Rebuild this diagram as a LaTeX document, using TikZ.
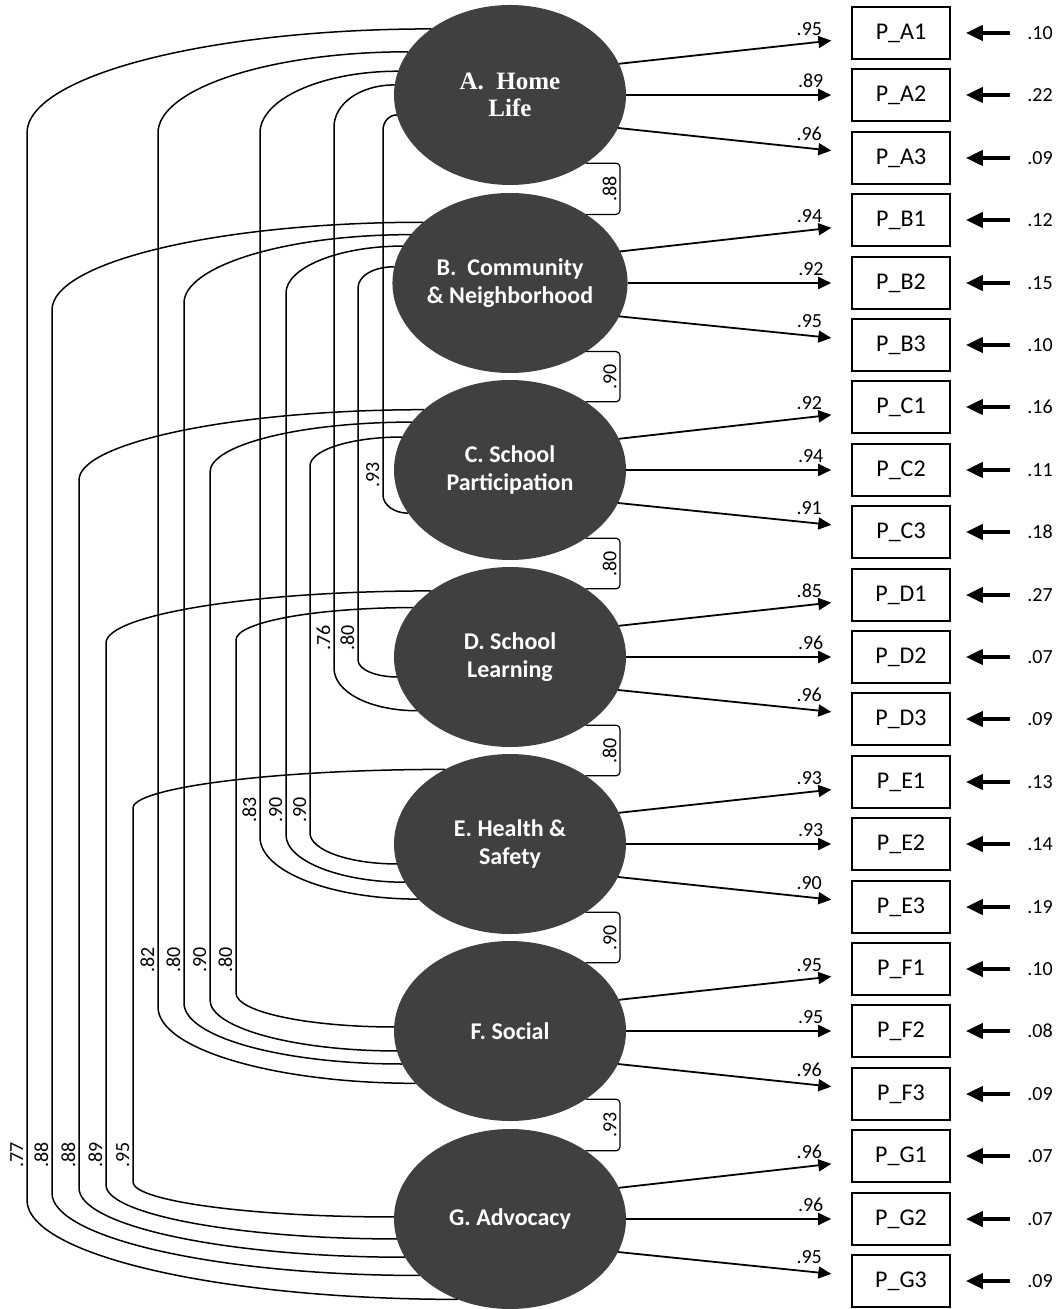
\documentclass[tikz,border=0pt]{standalone}
\usepackage{fontspec}
\setmainfont{Carlito}
\newfontfamily\titleserif{Liberation Serif}
\usetikzlibrary{arrows.meta,shapes.geometric}
\definecolor{factorgray}{RGB}{64,64,64}

\begin{document}
\begin{tikzpicture}[x=0.5pt, y=-0.5pt,
		factor/.style={ellipse, fill=factorgray, text=white, align=center,
			font=\bfseries\fontsize{12}{14}\selectfont,
			minimum width=116pt, minimum height=90pt, inner sep=0pt, outer sep=0pt},
		item/.style={draw, line width=0.8pt, minimum width=49pt, minimum height=26pt,
			inner sep=0pt, font=\fontsize{12}{14}\selectfont},
		load/.style={-{Triangle[length=6.5pt,width=6pt]}, line width=0.9pt, shorten >=10pt},
		loadlbl/.style={above, pos=0.82, font=\fontsize{10}{12}\selectfont},
		err/.style={inner sep=1pt, font=\fontsize{10}{12}\selectfont},
		errarrow/.style={-{Triangle[length=8.5pt,width=7.5pt]}, line width=2pt,
			shorten <=7.5pt, shorten >=7.5pt},
		corr/.style={line width=0.75pt},
		bracket/.style={line width=0.6pt, rounded corners=2pt},
		corrlbl/.style={rotate=90, anchor=south, inner sep=1.5pt, font=\fontsize{10}{12}\selectfont}]
		\useasboundingbox (0,0) rectangle (1057,1309);
		
		% Factors
		\node[factor, font=\titleserif\bfseries\fontsize{12.5}{13.5}\selectfont] (A) at (510,95) {A.\ \ Home\\Life};
		\node[factor] (B) at (510,283) {B.\ \ Community\\\& Neighborhood};
		\node[factor] (C) at (510,470) {C. School\\Participation};
		\node[factor] (D) at (510,657) {D. School\\Learning};
		\node[factor] (E) at (510,844) {E. Health \&\\Safety};
		\node[factor] (F) at (510,1031) {F. Social};
		\node[factor] (G) at (510,1219) {G. Advocacy};
		
		% Items
		\node[item] (PA1) at (901,33) {P\_A1};
		\node[item] (PA2) at (901,95) {P\_A2};
		\node[item] (PA3) at (901,158) {P\_A3};
		\node[item] (PB1) at (901,220) {P\_B1};
		\node[item] (PB2) at (901,283) {P\_B2};
		\node[item] (PB3) at (901,345) {P\_B3};
		\node[item] (PC1) at (901,407) {P\_C1};
		\node[item] (PC2) at (901,470) {P\_C2};
		\node[item] (PC3) at (901,532) {P\_C3};
		\node[item] (PD1) at (901,595) {P\_D1};
		\node[item] (PD2) at (901,657) {P\_D2};
		\node[item] (PD3) at (901,719) {P\_D3};
		\node[item] (PE1) at (901,782) {P\_E1};
		\node[item] (PE2) at (901,844) {P\_E2};
		\node[item] (PE3) at (901,907) {P\_E3};
		\node[item] (PF1) at (901,969) {P\_F1};
		\node[item] (PF2) at (901,1031) {P\_F2};
		\node[item] (PF3) at (901,1094) {P\_F3};
		\node[item] (PG1) at (901,1156) {P\_G1};
		\node[item] (PG2) at (901,1219) {P\_G2};
		\node[item] (PG3) at (901,1281) {P\_G3};
		
		% Loadings
		\draw[load] (A.16) -- (PA1) node[loadlbl] {.95};
		\draw[load] (A.0) -- (PA2) node[loadlbl] {.89};
		\draw[load] (A.-17) -- (PA3) node[loadlbl] {.96};
		\draw[load] (B.16) -- (PB1) node[loadlbl] {.94};
		\draw[load] (B.0) -- (PB2) node[loadlbl] {.92};
		\draw[load] (B.-17) -- (PB3) node[loadlbl] {.95};
		\draw[load] (C.16) -- (PC1) node[loadlbl] {.92};
		\draw[load] (C.0) -- (PC2) node[loadlbl] {.94};
		\draw[load] (C.-17) -- (PC3) node[loadlbl] {.91};
		\draw[load] (D.16) -- (PD1) node[loadlbl] {.85};
		\draw[load] (D.0) -- (PD2) node[loadlbl] {.96};
		\draw[load] (D.-17) -- (PD3) node[loadlbl] {.96};
		\draw[load] (E.16) -- (PE1) node[loadlbl] {.93};
		\draw[load] (E.0) -- (PE2) node[loadlbl] {.93};
		\draw[load] (E.-17) -- (PE3) node[loadlbl] {.90};
		\draw[load] (F.16) -- (PF1) node[loadlbl] {.95};
		\draw[load] (F.0) -- (PF2) node[loadlbl] {.95};
		\draw[load] (F.-17) -- (PF3) node[loadlbl] {.96};
		\draw[load] (G.16) -- (PG1) node[loadlbl] {.96};
		\draw[load] (G.0) -- (PG2) node[loadlbl] {.96};
		\draw[load] (G.-17) -- (PG3) node[loadlbl] {.95};
		
		% Errors
		\node[err] (eA1) at (1040,33) {.10}; \draw[errarrow] (eA1) -- (PA1);
		\node[err] (eA2) at (1040,95) {.22}; \draw[errarrow] (eA2) -- (PA2);
		\node[err] (eA3) at (1040,158) {.09}; \draw[errarrow] (eA3) -- (PA3);
		\node[err] (eB1) at (1040,220) {.12}; \draw[errarrow] (eB1) -- (PB1);
		\node[err] (eB2) at (1040,283) {.15}; \draw[errarrow] (eB2) -- (PB2);
		\node[err] (eB3) at (1040,345) {.10}; \draw[errarrow] (eB3) -- (PB3);
		\node[err] (eC1) at (1040,407) {.16}; \draw[errarrow] (eC1) -- (PC1);
		\node[err] (eC2) at (1040,470) {.11}; \draw[errarrow] (eC2) -- (PC2);
		\node[err] (eC3) at (1040,532) {.18}; \draw[errarrow] (eC3) -- (PC3);
		\node[err] (eD1) at (1040,595) {.27}; \draw[errarrow] (eD1) -- (PD1);
		\node[err] (eD2) at (1040,657) {.07}; \draw[errarrow] (eD2) -- (PD2);
		\node[err] (eD3) at (1040,719) {.09}; \draw[errarrow] (eD3) -- (PD3);
		\node[err] (eE1) at (1040,782) {.13}; \draw[errarrow] (eE1) -- (PE1);
		\node[err] (eE2) at (1040,844) {.14}; \draw[errarrow] (eE2) -- (PE2);
		\node[err] (eE3) at (1040,907) {.19}; \draw[errarrow] (eE3) -- (PE3);
		\node[err] (eF1) at (1040,969) {.10}; \draw[errarrow] (eF1) -- (PF1);
		\node[err] (eF2) at (1040,1031) {.08}; \draw[errarrow] (eF2) -- (PF2);
		\node[err] (eF3) at (1040,1094) {.09}; \draw[errarrow] (eF3) -- (PF3);
		\node[err] (eG1) at (1040,1156) {.07}; \draw[errarrow] (eG1) -- (PG1);
		\node[err] (eG2) at (1040,1219) {.07}; \draw[errarrow] (eG2) -- (PG2);
		\node[err] (eG3) at (1040,1281) {.09}; \draw[errarrow] (eG3) -- (PG3);
		
		% Neighbour correlations
		\draw[bracket] (A.-42) -| (620,189) node[corrlbl] {.88} |- (B.42);
		\draw[bracket] (B.-42) -| (620,377) node[corrlbl] {.90} |- (C.42);
		\draw[bracket] (C.-42) -| (620,564) node[corrlbl] {.80} |- (D.42);
		\draw[bracket] (D.-42) -| (620,751) node[corrlbl] {.80} |- (E.42);
		\draw[bracket] (E.-42) -| (620,938) node[corrlbl] {.90} |- (F.42);
		\draw[bracket] (F.-42) -| (620,1125) node[corrlbl] {.93} |- (G.42);
		
		% Other correlations
		\draw[corr] (A.140) .. controls +(-223,0) and +(0,-57) .. (27,133) -- (27,1200) .. controls +(0,55) and +(-237,0) .. (G.237) node[corrlbl] at (27,1155) {.77};
		\draw[corr] (A.157) .. controls +(-139,0) and +(0,-44) .. (158,133) -- (158,1007) .. controls +(0,42) and +(-141,0) .. (F.209) node[corrlbl] at (158,960) {.82};
		\draw[corr] (A.168) .. controls +(-76,0) and +(0,-34) .. (260,133) -- (260,837) .. controls +(0,35) and +(-86,0) .. (E.211) node[corrlbl] at (260,810) {.83};
		\draw[corr] (A.175) .. controls +(-35,0) and +(0,-23) .. (334,127) -- (334,668) .. controls +(0,25) and +(-45,0) .. (D.210) node[corrlbl] at (334,638) {.76};
		\draw[corr] (A.190) .. controls +(-8,0) and +(0,-8) .. (383,130) -- (383,495) .. controls +(0,10) and +(-14,0) .. (C.203) node[corrlbl] at (383,475) {.93};
		
		\draw[corr] (B.145) .. controls +(-205,0) and +(0,-48) .. (52,310) -- (52,1193) .. controls +(0,45) and +(-201,0) .. (G.212) node[corrlbl] at (52,1155) {.88};
		\draw[corr] (B.154) .. controls +(-128,0) and +(0,-36) .. (184,303) -- (184,1003) .. controls +(0,34) and +(-120,0) .. (F.197) node[corrlbl] at (184,960) {.80};
		\draw[corr] (B.161) .. controls +(-65,0) and +(0,-25) .. (286,293) -- (286,835) .. controls +(0,26) and +(-64,0) .. (E.200) node[corrlbl] at (286,810) {.90};
		\draw[corr] (B.172) .. controls +(-21,0) and +(0,-12) .. (358,288) -- (358,660) .. controls +(0,10) and +(-20,0) .. (D.190) node[corrlbl] at (358,638) {.80};
		
		\draw[corr] (C.145) .. controls +(-191,0) and +(0,-37) .. (79,480) -- (79,1188) .. controls +(0,38) and +(-178,0) .. (G.200) node[corrlbl] at (79,1155) {.88};
		\draw[corr] (C.154) .. controls +(-112,0) and +(0,-27) .. (210,472) -- (210,1000) .. controls +(0,28) and +(-102,0) .. (F.190) node[corrlbl] at (210,960) {.90};
		\draw[corr] (C.163) .. controls +(-51,0) and +(0,-16) .. (310,466) -- (310,833) .. controls +(0,17) and +(-48,0) .. (E.190) node[corrlbl] at (310,810) {.90};
		
		\draw[corr] (D.140) .. controls +(-180,0) and +(0,-28) .. (106,643) -- (106,1185) .. controls +(0,29) and +(-160,0) .. (G.190) node[corrlbl] at (106,1155) {.89};
		\draw[corr] (D.153) .. controls +(-97,0) and +(0,-18) .. (236,640) -- (236,993) .. controls +(0,19) and +(-86,0) .. (F.178) node[corrlbl] at (236,960) {.80};
		
		\draw[corr] (E.131) .. controls +(-173,0) and +(0,-20) .. (133,808) -- (133,1182) .. controls +(0,19) and +(-143,0) .. (G.179) node[corrlbl] at (133,1155) {.95};
	\end{tikzpicture}
\end{document}
